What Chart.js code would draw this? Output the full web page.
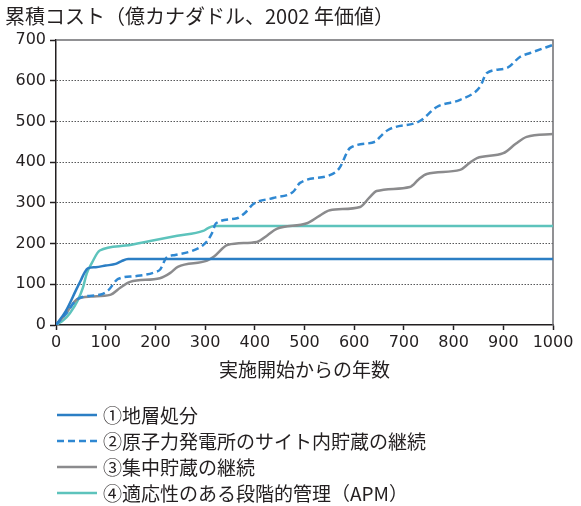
<!DOCTYPE html>
<html>
<head>
<meta charset="utf-8">
<script src="https://cdn.jsdelivr.net/npm/chart.js@4/dist/chart.umd.min.js"></script>
<style>
  html, body { margin: 0; padding: 0; background: #fff; }
  #wrap { position: relative; width: 581px; height: 506px; }
</style>
</head>
<body>
<div id="wrap"><canvas id="costChart"></canvas></div>
<script>
// --- data ---
const yAxisTitle = "累積コスト（億カナダドル、2002 年価値）";
const xAxisTitle = "実施開始からの年数";
const seriesLabels = [
  "①地層処分",
  "②原子力発電所のサイト内貯蔵の継続",
  "③集中貯蔵の継続",
  "④適応性のある段階的管理（APM）"
];
const xTickValues = [0, 100, 200, 300, 400, 500, 600, 700, 800, 900, 1000];
const yTickValues = [0, 100, 200, 300, 400, 500, 600, 700];

const dgrYears = [0, 20, 40, 50, 58, 64, 80, 100, 120, 132, 145, 1000];
const dgrCost  = [0, 35, 85, 110, 130, 139, 142, 146, 150, 157, 162, 162];

const onSiteYears = [0, 20, 45, 90, 105, 125, 160, 200, 210, 222, 240, 274, 295, 306, 314, 322, 364, 380, 397, 437, 477, 491, 551, 570, 592, 642, 652, 668, 732, 767, 813, 853, 867, 907, 934, 954, 1000];
const onSiteCost  = [0, 28, 65, 75, 85, 113, 120, 130, 137, 165, 172, 182, 195, 209, 226, 250, 262, 275, 297, 312, 327, 349, 368, 385, 435, 450, 462, 479, 501, 536, 553, 585, 619, 631, 659, 668, 688];

const centralYears = [0, 20, 42, 70, 109, 130, 149, 209, 230, 245, 304, 318, 346, 404, 425, 444, 505, 530, 551, 612, 630, 645, 712, 730, 746, 813, 830, 847, 900, 925, 947, 1000];
const centralCost  = [0, 28, 63, 70, 74, 92, 106, 115, 128, 143, 158, 168, 197, 204, 220, 236, 250, 268, 282, 290, 312, 329, 339, 358, 371, 381, 396, 410, 422, 445, 462, 469];

const apmYears = [0, 15, 28, 44, 54, 62, 72, 88, 140, 192, 244, 296, 306, 318, 1000];
const apmCost  = [0, 12, 29, 61, 91, 127, 152, 183, 195, 207, 219, 231, 238, 243, 243];

// --- styling ---
const textColor = "#231f20";
const numFont = '"DejaVu Sans", "Noto Sans CJK JP", sans-serif';
const jpFont = '"Noto Sans CJK JP", "DejaVu Sans", sans-serif';

const toPoints = (xs, ys) => xs.map((x, i) => ({ x: x, y: ys[i] }));

const decorations = {
  id: "decorations",
  beforeDatasetsDraw(chart) {
    const { ctx, chartArea: a } = chart;
    ctx.save();
    ctx.strokeStyle = "#6d6e71";
    ctx.lineWidth = 1.5;
    ctx.beginPath();
    ctx.moveTo(a.left, a.top);
    ctx.lineTo(a.right, a.top);
    ctx.lineTo(a.right, a.bottom);
    ctx.stroke();
    ctx.restore();
  },
  afterDraw(chart) {
    const { ctx } = chart;
    ctx.save();
    ctx.fillStyle = textColor;
    ctx.textBaseline = "middle";
    ctx.font = "20px " + jpFont;
    ctx.fillText(yAxisTitle, 5, 16);

    ctx.font = "19px " + jpFont;
    chart.data.datasets.forEach((ds, i) => {
      const y = 415 + i * 26;
      ctx.strokeStyle = ds.borderColor;
      ctx.lineWidth = 2.5;
      ctx.setLineDash(ds.borderDash || []);
      ctx.beginPath();
      ctx.moveTo(57, y);
      ctx.lineTo(97, y);
      ctx.stroke();
      ctx.setLineDash([]);
      ctx.fillText(ds.label, 103, y + 1);
    });
    ctx.restore();
  }
};

const lineStyle = {
  pointRadius: 0,
  borderWidth: 2.5,
  fill: false,
  cubicInterpolationMode: "monotone"
};

new Chart(document.getElementById("costChart"), {
  type: "line",
  data: {
    datasets: [
      { ...lineStyle, label: seriesLabels[0], data: toPoints(dgrYears, dgrCost), borderColor: "#2b7ec4" },
      { ...lineStyle, label: seriesLabels[1], data: toPoints(onSiteYears, onSiteCost), borderColor: "#2f88d2", borderDash: [7, 4] },
      { ...lineStyle, label: seriesLabels[2], data: toPoints(centralYears, centralCost), borderColor: "#8b8b8d" },
      { ...lineStyle, label: seriesLabels[3], data: toPoints(apmYears, apmCost), borderColor: "#5dc3bc" }
    ]
  },
  options: {
    responsive: true,
    maintainAspectRatio: false,
    animation: false,
    devicePixelRatio: 1,
    layout: { padding: { top: 40, right: 28, bottom: 121, left: 0 } },
    plugins: {
      legend: { display: false },
      tooltip: { enabled: false }
    },
    scales: {
      x: {
        type: "linear",
        min: 0,
        max: 1000,
        afterBuildTicks: (scale) => { scale.ticks = xTickValues.map((v) => ({ value: v })); },
        afterFit: (scale) => { scale.height = 60; },
        ticks: { color: textColor, font: { family: numFont, size: 16 }, padding: 3, maxRotation: 0, autoSkip: false, callback: (v) => String(v) },
        grid: { drawOnChartArea: false, tickLength: 5, tickColor: textColor, tickWidth: 1.5 },
        border: { color: textColor, width: 1.5 },
        title: { display: true, text: xAxisTitle, color: textColor, font: { family: jpFont, size: 19 }, padding: { top: 0, bottom: 4 } }
      },
      y: {
        type: "linear",
        min: 0,
        max: 700,
        afterBuildTicks: (scale) => { scale.ticks = yTickValues.map((v) => ({ value: v })); },
        afterFit: (scale) => { scale.width = 56; },
        ticks: { color: textColor, font: { family: numFont, size: 16 }, padding: 4, callback: (v) => String(v) },
        grid: {
          color: (c) => (c.tick && (c.tick.value === 0 || c.tick.value === 700)) ? "rgba(0,0,0,0)" : "#58595b",
          lineWidth: 1,
          tickLength: 6,
          tickColor: textColor,
          tickWidth: 1.5
        },
        border: { color: textColor, width: 1.5, dash: [1.5, 1.5] }
      }
    }
  },
  plugins: [decorations]
});
</script>
</body>
</html>
